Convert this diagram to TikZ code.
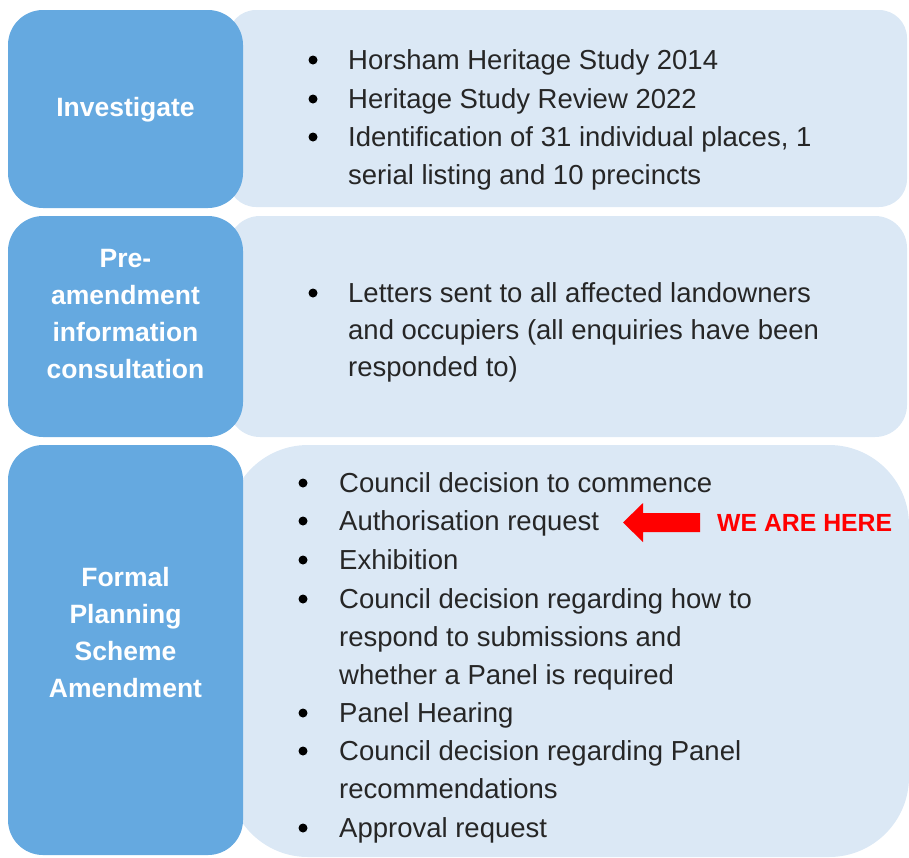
\documentclass[tikz,border=0pt]{standalone}
\usepackage{fontspec}
\setmainfont{Liberation Sans}
\definecolor{bluebox}{HTML}{65A9E0}
\definecolor{lightbox}{HTML}{DBE8F5}
\definecolor{txt}{HTML}{262626}
\definecolor{redc}{HTML}{FF0000}
\begin{document}
\begin{tikzpicture}[x=1pt,y=-1pt,
  phase/.style={fill=bluebox, rounded corners=35pt, inner sep=0pt, outer sep=0pt},
  plabel/.style={text=white, align=center, inner sep=0pt, font=\bfseries\fontsize{26.5}{37}\selectfont},
  detail/.style={fill=lightbox, inner sep=0pt, outer sep=0pt},
  bul/.style={circle, fill=black, inner sep=0pt, minimum size=9pt},
  item/.style={anchor=base west, inner sep=0pt, text=txt, font=\fontsize{27.5}{38}\selectfont},
  here/.style={anchor=west, inner sep=0pt, text=redc, font=\bfseries\fontsize{24.8}{30}\selectfont}]
\useasboundingbox (0,0) rectangle (909,857);
% light boxes
\node[detail, rounded corners=28pt, minimum width=679pt, minimum height=197pt] (d1) at (567.5,108.5) {};
\node[detail, rounded corners=32pt, minimum width=679pt, minimum height=221pt] (d2) at (567.5,326.5) {};
\node[detail, rounded corners=80pt, minimum width=681pt, minimum height=412pt] (d3) at (568.5,651) {};
% blue boxes
\node[phase, minimum width=235pt, minimum height=198pt] (p1) at (125.5,109) {};
\node[plabel] (l1) at (125.5,109.5) {Investigate};
\node[phase, minimum width=235pt, minimum height=221pt] (p2) at (125.5,326.5) {};
\node[plabel] (l2) at (125.5,314) {Pre-\\amendment\\information\\consultation};
\node[phase, minimum width=235pt, minimum height=410pt] (p3) at (125.5,650) {};
\node[plabel] (l3) at (125.5,633) {Formal\\Planning\\Scheme\\Amendment};
% box 1 items
\node[bul] (b11) at (313,60) {};
\node[item] (t11) at (348,69) {Horsham Heritage Study 2014};
\node[bul] (b12) at (313,99) {};
\node[item] (t12) at (348,108) {Heritage Study Review 2022};
\node[bul] (b13) at (313,137) {};
\node[item] (t13) at (348,146) {Identification of 31 individual places, 1};
\node[item] (t13b) at (348,184) {serial listing and 10 precincts};
% box 2 items
\node[bul] (b21) at (313,293) {};
\node[item] (t21) at (348,302) {Letters sent to all affected landowners};
\node[item] (t21b) at (348,339) {and occupiers (all enquiries have been};
\node[item] (t21c) at (348,376) {responded to)};
% box 3 items
\node[bul] (b31) at (303,483) {};
\node[item] (t31) at (339,492) {Council decision to commence};
\node[bul] (b32) at (303,521) {};
\node[item] (t32) at (339,530) {Authorisation request};
\node[bul] (b33) at (303,560) {};
\node[item] (t33) at (339,569) {Exhibition};
\node[bul] (b34) at (303,599) {};
\node[item] (t34) at (339,608) {Council decision regarding how to};
\node[item] (t34b) at (339,646) {respond to submissions and};
\node[item] (t34c) at (339,684) {whether a Panel is required};
\node[bul] (b35) at (303,713) {};
\node[item] (t35) at (339,722) {Panel Hearing};
\node[bul] (b36) at (303,751) {};
\node[item] (t36) at (339,760) {Council decision regarding Panel};
\node[item] (t36b) at (339,798) {recommendations};
\node[bul] (b37) at (303,828) {};
\node[item] (t37) at (339,837) {Approval request};
% we are here
\fill[redc] (623,522.5) -- (643,503) -- (643,513) -- (700,513) -- (700,532) -- (643,532) -- (643,542) -- cycle;
\node[here] (wah) at (717,522.5) {WE ARE HERE};
\end{tikzpicture}
\end{document}
